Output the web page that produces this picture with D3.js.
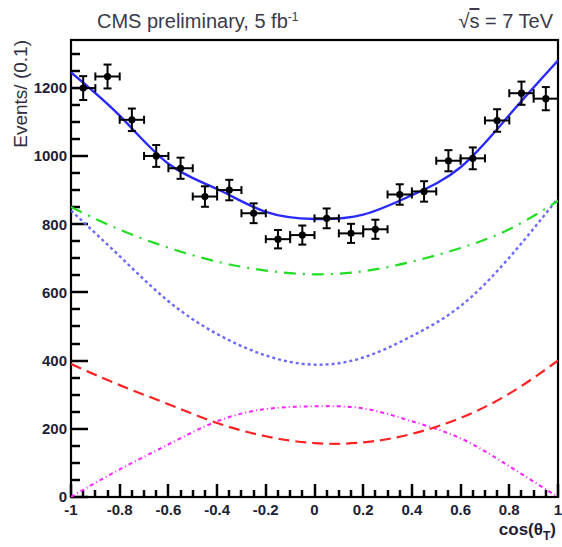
<!DOCTYPE html>
<html>
<head>
<meta charset="utf-8">
<script src="https://cdn.jsdelivr.net/npm/d3@7"></script>
<style>
  body { margin: 0; background: #fff; }
  text { font-family: "Liberation Sans", Arial, sans-serif; }
</style>
</head>
<body>
<div id="chart"></div>
<script>
// data points: bin centres, events per bin, errors
var binCentres = [-0.95, -0.85, -0.75, -0.65, -0.55, -0.45, -0.35, -0.25, -0.15, -0.05,
                  0.05, 0.15, 0.25, 0.35, 0.45, 0.55, 0.65, 0.75, 0.85, 0.95];
var events = [1199, 1233, 1106, 1000, 964, 881, 900, 832, 756, 768,
              817, 773, 785, 887, 896, 986, 993, 1104, 1184, 1168];
var errors = [35, 35, 33, 32, 31, 30, 30, 29, 27, 28,
              29, 28, 28, 30, 30, 31, 32, 33, 34, 34];

var curveX = [-1, -0.8, -0.6, -0.4, -0.2, 0, 0.2, 0.4, 0.6, 0.8, 1];
var totalFit = [1245, 1118, 977, 903, 836, 815, 828, 885, 967, 1120, 1280];
var greenFit = [850, 784, 731, 690, 664, 653, 662, 690, 730, 785, 868];
var blueDotFit = [840, 706, 574, 478, 415, 388, 409, 472, 560, 702, 876];
var redFit = [390, 328, 272, 217, 178, 158, 160, 185, 232, 303, 400];
var magentaFit = [0, 81, 154, 222, 258, 266, 260, 222, 172, 90, 0];

var yMajor = [0, 200, 400, 600, 800, 1000, 1200];
var yMinor = [50, 100, 150, 250, 300, 350, 450, 500, 550, 650, 700, 750,
              850, 900, 950, 1050, 1100, 1150, 1250, 1300];
var xMajor = [-1, -0.8, -0.6, -0.4, -0.2, 0, 0.2, 0.4, 0.6, 0.8, 1];
var xMinor = [-0.95, -0.9, -0.85, -0.75, -0.7, -0.65, -0.55, -0.5, -0.45, -0.35, -0.3, -0.25,
              -0.15, -0.1, -0.05, 0.05, 0.1, 0.15, 0.25, 0.3, 0.35, 0.45, 0.5, 0.55,
              0.65, 0.7, 0.75, 0.85, 0.9, 0.95];
var xLabels = ["-1", "-0.8", "-0.6", "-0.4", "-0.2", "0", "0.2", "0.4", "0.6", "0.8", "1"];

var margin = { top: 40, right: 4, bottom: 50, left: 71 };
var width = 562 - margin.left - margin.right;
var height = 547 - margin.top - margin.bottom;

var svg = d3.select("#chart")
  .append("svg")
  .attr("width", 562)
  .attr("height", 547)
  .append("g")
  .attr("transform", "translate(" + margin.left + "," + margin.top + ")");

var x = d3.scaleLinear().domain([-1, 1]).range([0, width]);
var y = d3.scaleLinear().domain([0, 1340]).range([height, 0]);

// frame and ticks first, underneath the marks
svg.append("rect")
  .attr("width", width).attr("height", height)
  .attr("fill", "none").attr("stroke", "#000").attr("stroke-width", 2.2);

var tickG = svg.append("g");
function addTicks(vals, horiz, len) {
  tickG.selectAll(null).data(vals).enter().append("line")
    .attr("x1", function (d) { return horiz ? 0 : Math.round(x(d)); })
    .attr("x2", function (d) { return horiz ? len : Math.round(x(d)); })
    .attr("y1", function (d) { return horiz ? Math.round(y(d)) : height; })
    .attr("y2", function (d) { return horiz ? Math.round(y(d)) : height - len; })
    .attr("stroke", "#000")
    .attr("stroke-width", 2.5);
}
addTicks(yMajor, true, 17);
addTicks(yMinor, true, 9);
addTicks(xMajor, false, 13);
addTicks(xMinor, false, 7);

svg.append("clipPath").attr("id", "clip")
  .append("rect").attr("width", width).attr("height", height);

// curves
var line = d3.line()
  .x(function (d) { return x(d[0]); })
  .y(function (d) { return y(d[1]); })
  .curve(d3.curveNatural);

function drawCurve(vals, color, dash, w) {
  svg.append("path")
    .datum(curveX.map(function (c, i) { return [c, vals[i]]; }))
    .attr("clip-path", "url(#clip)")
    .attr("fill", "none")
    .attr("stroke", color)
    .attr("stroke-width", w)
    .attr("stroke-dasharray", dash)
    .attr("d", line);
}

drawCurve(magentaFit, "#ff22ff", "4,3,1,3", 2);
drawCurve(redFit, "#ff2222", "11,6", 2.2);
drawCurve(blueDotFit, "#6a6aff", "3,3", 2.4);
drawCurve(greenFit, "#22dd22", "12,7,2,7", 2.2);
drawCurve(totalFit, "#2a2aff", null, 2.4);

// data points with error bars
var pts = svg.append("g");
binCentres.forEach(function (c, i) {
  var cx = x(c), cy = y(events[i]);
  var x0 = x(c - 0.05), x1 = x(c + 0.05);
  var y0 = y(events[i] - errors[i]), y1 = y(events[i] + errors[i]);
  var cap = 4;
  var g = pts.append("g").attr("stroke", "#000").attr("stroke-width", 2);
  g.append("line").attr("x1", x0).attr("x2", x1).attr("y1", cy).attr("y2", cy);
  g.append("line").attr("x1", cx).attr("x2", cx).attr("y1", y0).attr("y2", y1);
  g.append("line").attr("x1", x0).attr("x2", x0).attr("y1", cy - cap).attr("y2", cy + cap);
  g.append("line").attr("x1", x1).attr("x2", x1).attr("y1", cy - cap).attr("y2", cy + cap);
  g.append("line").attr("x1", cx - cap).attr("x2", cx + cap).attr("y1", y0).attr("y2", y0);
  g.append("line").attr("x1", cx - cap).attr("x2", cx + cap).attr("y1", y1).attr("y2", y1);
  pts.append("circle").attr("cx", cx).attr("cy", cy).attr("r", 3.6).attr("fill", "#000");
});

// tick labels
svg.append("g").selectAll("text").data(yMajor).enter().append("text")
  .attr("x", -4)
  .attr("y", function (d) { return y(d); })
  .attr("dy", "0.36em")
  .attr("text-anchor", "end")
  .style("font-size", "15px").style("font-weight", "bold").style("fill", "#1e1e34")
  .text(function (d) { return d; });

svg.append("g").selectAll("text").data(xMajor).enter().append("text")
  .attr("x", function (d) { return x(d); })
  .attr("y", height + 18)
  .attr("text-anchor", "middle")
  .style("font-size", "15px").style("font-weight", "bold").style("fill", "#1e1e34")
  .text(function (d, i) { return xLabels[i]; });

// titles
var title = svg.append("text")
  .attr("x", 97 - margin.left).attr("y", 28 - margin.top)
  .style("font-size", "20px").style("fill", "#3a3a4a")
  .text("CMS preliminary, 5 fb");
title.append("tspan").attr("dy", -7).style("font-size", "12px").text("-1");

var energy = svg.append("text")
  .attr("x", 553 - margin.left).attr("y", 28 - margin.top)
  .attr("text-anchor", "end")
  .style("font-size", "20px").style("fill", "#3a3a4a")
  .text("\u221A");
energy.append("tspan").style("text-decoration", "overline").text("s");
energy.append("tspan").text(" = 7 TeV");

svg.append("text")
  .attr("transform", "rotate(-90)")
  .attr("x", 0).attr("y", 27 - margin.left)
  .attr("text-anchor", "end")
  .style("font-size", "19px").style("fill", "#2e2e40")
  .text("Events/ (0.1)");

var xt = svg.append("text")
  .attr("x", 556 - margin.left).attr("y", 535 - margin.top)
  .attr("text-anchor", "end")
  .style("font-size", "17px").style("font-weight", "bold").style("fill", "#1e1e34")
  .text("cos(\u03B8");
xt.append("tspan").attr("dy", 5).style("font-size", "12px").text("T");
xt.append("tspan").attr("dy", -5).text(")");
</script>
</body>
</html>
